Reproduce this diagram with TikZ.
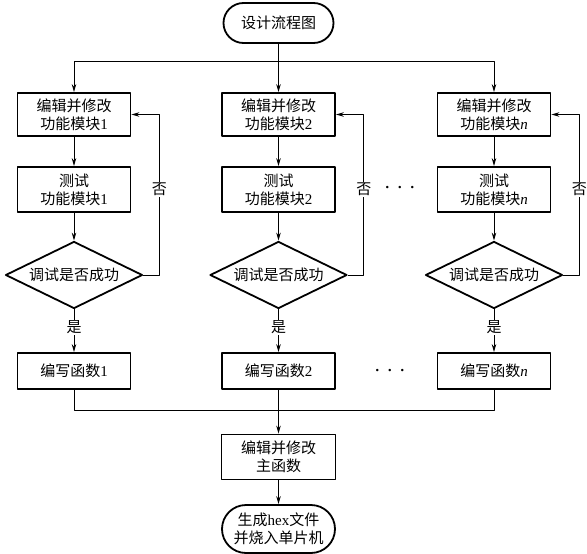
\documentclass[tikz,border=0pt]{standalone}
\usepackage{fontspec}
\setmainfont{Liberation Serif}
\newfontfamily\cjk{Noto Sans CJK SC}
\usetikzlibrary{arrows.meta,shapes.geometric}
\begin{document}
\begin{tikzpicture}[x=1pt, y=-1pt, line join=round, >={Stealth[length=8pt,width=4.5pt]},
	font=\fontsize{15}{18}\selectfont,
	box/.style={draw, line width=1.8pt, minimum width=113pt, minimum height=43pt, inner sep=1pt, align=center},
	term/.style={box, rounded corners=20pt},
	test/.style={draw, line width=1.8pt, diamond, aspect=2, minimum width=137pt, minimum height=67pt, inner sep=0pt},
	lab/.style={fill=white, inner sep=1pt},
	link/.style={line width=1pt}]
	\useasboundingbox (0,0) rectangle (587,554);
	\node[term, minimum width=110pt, minimum height=40pt] (start) at (278.5,23) {\cjk 设计流程图};
	\coordinate (split) at (278.5,61);
	\coordinate (merge) at (278.5,410);
	\draw[link] (start) -- (split);
	\foreach \x/\i/\k in {74/1/1, 278.5/2/2, 494/3/\textit{n}} {
		\node[box] (e\i) at (\x,114.5) {{\cjk 编辑并修改}\\{\cjk 功能模块}\k};
		\node[box, minimum height=45pt] (t\i) at (\x,189.5) {{\cjk 测试}\\{\cjk 功能模块}\k};
		\node[test] (d\i) at (\x,275) {\cjk 调试是否成功};
		\node[box, minimum height=36pt] (f\i) at (\x,371) {{\cjk 编写函数}\k};
		\draw[link,->] (split) -| (e\i);
		\draw[link,->] (e\i) -- (t\i);
		\draw[link,->] (t\i) -- (d\i);
		\draw[link,->] (d\i) -- node[lab, pos=0.42] (yes\i) {\cjk 是} (f\i);
		\draw[link,->] (d\i.east) -- ++(16,0) coordinate (b\i) |- (e\i.east);
		\node[lab] (no\i) at (b\i |- t\i) {\cjk 否};
		\draw[link] (f\i) |- (merge);
	}
	\node[font=\fontsize{15}{18}\bfseries] (dots1) at (400,189) {·\enspace·\enspace·};
	\node[font=\fontsize{15}{18}\bfseries] (dots2) at (390,372) {·\enspace·\enspace·};
	\node[box, minimum width=114pt, minimum height=45pt] (main) at (278.5,457) {{\cjk 编辑并修改}\\{\cjk 主函数}};
	\node[term, rounded corners=24pt, minimum height=48pt] (end) at (278.5,529) {{\cjk 生成}hex{\cjk 文件}\\{\cjk 并烧入单片机}};
	\draw[link,->] (merge) -- (main);
	\draw[link,->] (main) -- (end);
\end{tikzpicture}
\end{document}
